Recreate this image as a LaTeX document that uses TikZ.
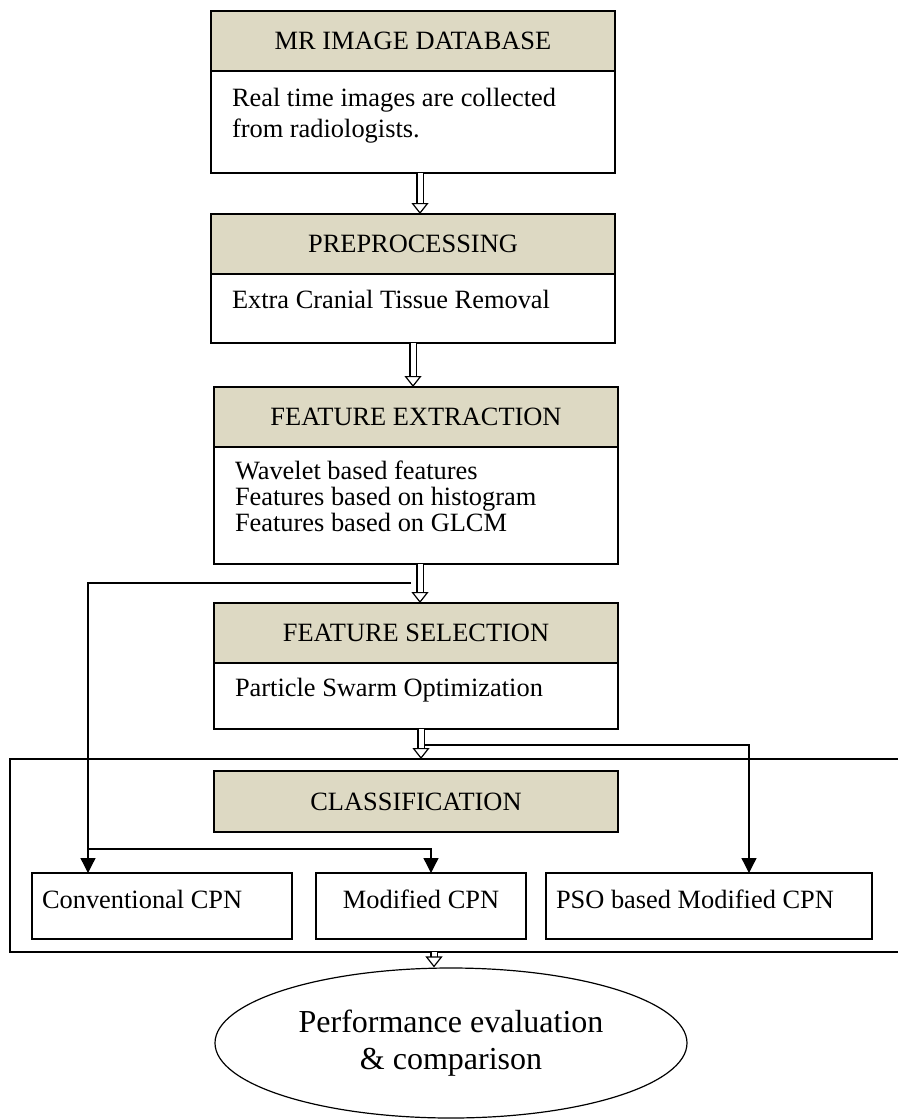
\documentclass[tikz,border=0pt]{standalone}
\usepackage{fontspec}
\setmainfont{Liberation Serif}
\usetikzlibrary{positioning,arrows.meta,shapes.geometric}
\definecolor{headtan}{RGB}{221,217,195}

\begin{document}
\begin{tikzpicture}[
    x=0.5pt, y=-0.5pt,
    font=\fontsize{13.2}{15.5}\selectfont,
    headbox/.style={
        draw=black,
        fill=headtan,
        line width=0.75pt,
        outer sep=0pt,
        inner sep=0pt,
        minimum width=202pt,
        minimum height=30pt
    },
    bodybox/.style={
        draw=black,
        fill=white,
        line width=0.75pt,
        outer sep=0pt,
        inner xsep=10.5pt,
        inner ysep=0pt,
        text width=181pt,
        align=flush left,
        minimum height=#1,
        execute at end node={\rule[-9pt]{0pt}{0pt}}
    },
    cpnbox/.style={
        draw=black,
        fill=white,
        line width=0.75pt,
        outer sep=0pt,
        inner xsep=5pt,
        inner ysep=0pt,
        minimum height=33pt,
        text height=10pt,
        text depth=8pt
    },
    hollow/.style={
        double, double distance=2.5pt, line width=0.6pt,
        -{Triangle[width=8.5pt,length=5.5pt,fill=white,line width=0.6pt]}
    },
    feed/.style={line width=0.65pt, -{Triangle[width=7.5pt,length=7.5pt]}},
    frameline/.style={line width=0.55pt}
]
    \useasboundingbox (0,0) rectangle (898,1120);

    % main column
    \node[headbox] (dbhead) at (413,41) {MR IMAGE DATABASE};
    \node[bodybox=51pt, below=0pt of dbhead] (dbbody)
        {Real time images are collected\\from radiologists.};

    \node[headbox, below=20.5pt of dbbody] (prephead) {PREPROCESSING};
    \node[bodybox=34.5pt, below=0pt of prephead] (prepbody)
        {Extra Cranial Tissue Removal};

    \node[headbox, below=22pt of prepbody, xshift=1.5pt] (fxhead) {FEATURE EXTRACTION};
    \node[bodybox=58.5pt, below=0pt of fxhead] (fxbody)
        {Wavelet based features\\[-2.5pt]
         Features based on histogram\\[-2.5pt]
         Features based on GLCM};

    \node[headbox, below=19.5pt of fxbody] (fshead) {FEATURE SELECTION};
    \node[bodybox=33pt, below=0pt of fshead] (fsbody)
        {Particle Swarm Optimization};

    % classification frame
    \coordinate (frTL) at (10,759);
    \coordinate (frBL) at (10,952);
    \draw[frameline] (898,759) -- (frTL) -- (frBL) -- (898,952);

    \node[headbox, minimum height=30.5pt, below=21pt of fsbody] (classhead) {CLASSIFICATION};

    \node[cpnbox, minimum width=130pt, text width=120pt, align=flush left] (convcpn) at (162,906) {Conventional CPN};
    \node[cpnbox, minimum width=105pt] (modcpn) at (421,906) {Modified CPN};
    \node[cpnbox, minimum width=163pt, text width=153pt, align=flush left] (psocpn) at (709,906) {PSO based Modified CPN};

    \node[ellipse, draw=black, line width=0.6pt, inner sep=0pt,
          minimum width=236pt, minimum height=75pt, align=center,
          font=\fontsize{16}{18.5}\selectfont] (perf) at (451,1043)
        {Performance evaluation\\\& comparison};

    % hollow flow arrows
    \draw[hollow] ([xshift=3.5pt]dbbody.south) -- ([xshift=3.5pt]dbbody.south |- prephead.north);
    \draw[hollow] (prepbody.south) -- (prepbody.south |- fxhead.north);
    \draw[hollow] ([xshift=2pt]fxbody.south) -- ([xshift=2pt]fxbody.south |- fshead.north);
    \draw[hollow] ([xshift=2.5pt]fsbody.south) -- ([xshift=2.5pt]fsbody.south |- frTL);
    \draw[hollow] ([xshift=-8.5pt]perf.north |- frBL) -- ([xshift=-8.5pt]perf.north);

    % feature lines to the classifiers
    \coordinate (fxtap) at (411,583);
    \coordinate (fxsplit) at (88,849);
    \coordinate (fstap) at (425,745);
    \draw[feed] (fxtap) -| ([xshift=-37pt]convcpn.north);
    \draw[feed] (fxsplit) -| ([xshift=5pt]modcpn.north);
    \draw[feed] (fstap) -| ([xshift=20pt]psocpn.north);

\end{tikzpicture}
\end{document}
